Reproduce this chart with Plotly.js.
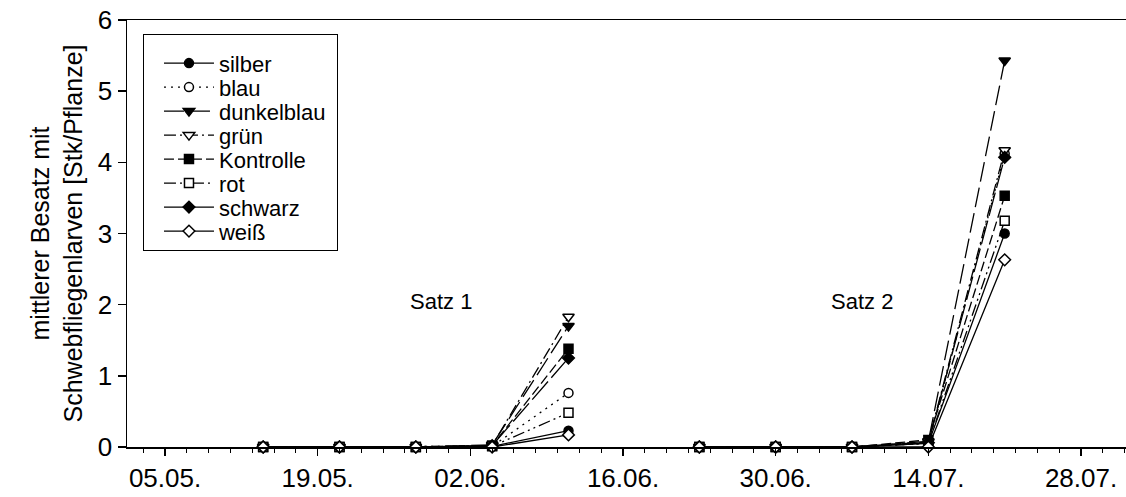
<!DOCTYPE html>
<html>
<head>
<meta charset="utf-8">
<script src="https://cdn.plot.ly/plotly-3.0.1.min.js"></script>
<style>html,body{margin:0;padding:0;background:#fff;}#chart{width:1126px;height:497px;}</style>
</head>
<body>
<div id="chart"></div>
<script>
// Sampling dates
const datesSatz1 = ['2003-05-14', '2003-05-21', '2003-05-28', '2003-06-04', '2003-06-11'];
const datesSatz2 = ['2003-06-23', '2003-06-30', '2003-07-07', '2003-07-14', '2003-07-21'];

// Series names
const seriesNames = ['silber', 'blau', 'dunkelblau', 'grün', 'Kontrolle', 'rot', 'schwarz', 'weiß'];

// Values per series: Satz 1 then Satz 2
const silber1     = [0, 0, 0, 0.01, 0.23];
const silber2     = [0, 0, 0, 0.05, 3.00];
const blau1       = [0, 0, 0, 0.01, 0.76];
const blau2       = [0, 0, 0, 0.05, 4.12];
const dunkelblau1 = [0, 0, 0, 0.03, 1.70];
const dunkelblau2 = [0, 0, 0, 0.08, 5.43];
const gruen1      = [0, 0, 0, 0.02, 1.83];
const gruen2      = [0, 0, 0, 0.07, 4.17];
const kontrolle1  = [0, 0, 0, 0.02, 1.38];
const kontrolle2  = [0, 0, 0, 0.10, 3.53];
const rot1        = [0, 0, 0, 0.01, 0.48];
const rot2        = [0, 0, 0, 0.05, 3.18];
const schwarz1    = [0, 0, 0, 0.02, 1.25];
const schwarz2    = [0, 0, 0, 0.06, 4.07];
const weiss1      = [0, 0, 0, 0.00, 0.17];
const weiss2      = [0, 0, 0, 0.00, 2.63];

const xTickVals = ['2003-05-05', '2003-05-19', '2003-06-02', '2003-06-16', '2003-06-30', '2003-07-14', '2003-07-28'];
const xTickText = ['05.05.', '19.05.', '02.06.', '16.06.', '30.06.', '14.07.', '28.07.'];

const seriesData = [
  [silber1, silber2], [blau1, blau2], [dunkelblau1, dunkelblau2], [gruen1, gruen2],
  [kontrolle1, kontrolle2], [rot1, rot2], [schwarz1, schwarz2], [weiss1, weiss2]
];

const styles = [
  {symbol: 'circle', fill: '#000', dash: 'solid'},
  {symbol: 'circle', fill: '#fff', dash: '2px,5px'},
  {symbol: 'triangle-down', fill: '#000', dash: '20px,6px'},
  {symbol: 'triangle-down', fill: '#fff', dash: '12px,4px,2px,4px'},
  {symbol: 'square', fill: '#000', dash: '10px,4px'},
  {symbol: 'square', fill: '#fff', dash: '12px,4px,2px,4px,2px,4px'},
  {symbol: 'diamond', fill: '#000', dash: '24px,5px'},
  {symbol: 'diamond', fill: '#fff', dash: 'solid'}
];

const traces = [];
seriesNames.forEach((name, i) => {
  const st = styles[i];
  [0, 1].forEach(k => {
    traces.push({
      type: 'scatter',
      mode: 'lines+markers',
      name: name,
      showlegend: k === 0,
      x: k === 0 ? datesSatz1 : datesSatz2,
      y: seriesData[i][k],
      cliponaxis: false,
      line: {color: '#000', width: 1.3, dash: st.dash},
      marker: {symbol: st.symbol, size: st.symbol === 'triangle-down' ? 10 : 9, color: st.fill, line: {color: '#000', width: 1.5}}
    });
  });
});

const FONT = 'Liberation Sans, Arial, sans-serif';

const layout = {
  width: 1126,
  height: 497,
  margin: {l: 127, r: 0, t: 20, b: 50},
  paper_bgcolor: '#fff',
  plot_bgcolor: '#fff',
  font: {family: FONT, color: '#000', size: 26},
  showlegend: true,
  legend: {
    x: 0.016, y: 0.967, xanchor: 'left', yanchor: 'top',
    bgcolor: '#fff', bordercolor: '#000', borderwidth: 1,
    font: {size: 22, family: FONT, color: '#000'},
    itemwidth: 50,
    tracegroupgap: 0
  },
  xaxis: {
    type: 'date',
    range: ['2003-05-01 12:20', '2003-08-01 03:00'],
    tickvals: xTickVals,
    ticktext: xTickText,
    ticks: 'outside', ticklen: 7, tickwidth: 1.5, tickcolor: '#000',
    minor: {dtick: 2 * 86400000, tick0: '2003-05-05', ticks: 'outside', ticklen: 4, tickwidth: 1, tickcolor: '#000', showgrid: false},
    showline: true, linecolor: '#000', linewidth: 1.5, mirror: true,
    showgrid: false, zeroline: false,
    tickfont: {size: 26}
  },
  yaxis: {
    range: [0, 6],
    dtick: 1,
    ticks: 'outside', ticklen: 8, tickwidth: 1.5, tickcolor: '#000',
    showline: true, linecolor: '#000', linewidth: 1.5,
    showgrid: false, zeroline: false,
    tickfont: {size: 26},
    title: {text: 'mittlerer Besatz mit<br>Schwebfliegenlarven [Stk/Pflanze]', font: {size: 25}, standoff: 8}
  },
  annotations: [
    {x: '2003-05-30 07:00', y: 2.05, xref: 'x', yref: 'y', text: 'Satz 1', showarrow: false, font: {size: 22}},
    {x: '2003-07-07 21:00', y: 2.05, xref: 'x', yref: 'y', text: 'Satz 2', showarrow: false, font: {size: 22}}
  ]
};

Plotly.newPlot('chart', traces, layout, {staticPlot: true, displayModeBar: false}).then(gd => {
  // Compact legend spacing to match the reference layout
  const items = gd.querySelectorAll('.legend .traces');
  items.forEach((el, i) => {
    el.setAttribute('transform', 'translate(' + 16 + ',' + (29 + 24 * i) + ')');
  });
  const sb = gd.querySelector('.legend .scrollbox');
  if (sb) sb.removeAttribute('clip-path');
  const bg = gd.querySelector('.legend rect.bg');
  if (bg) {
    bg.setAttribute('height', 29 + 24 * (items.length - 1) + 19);
    bg.setAttribute('width', 194);
  }
});
</script>
</body>
</html>
